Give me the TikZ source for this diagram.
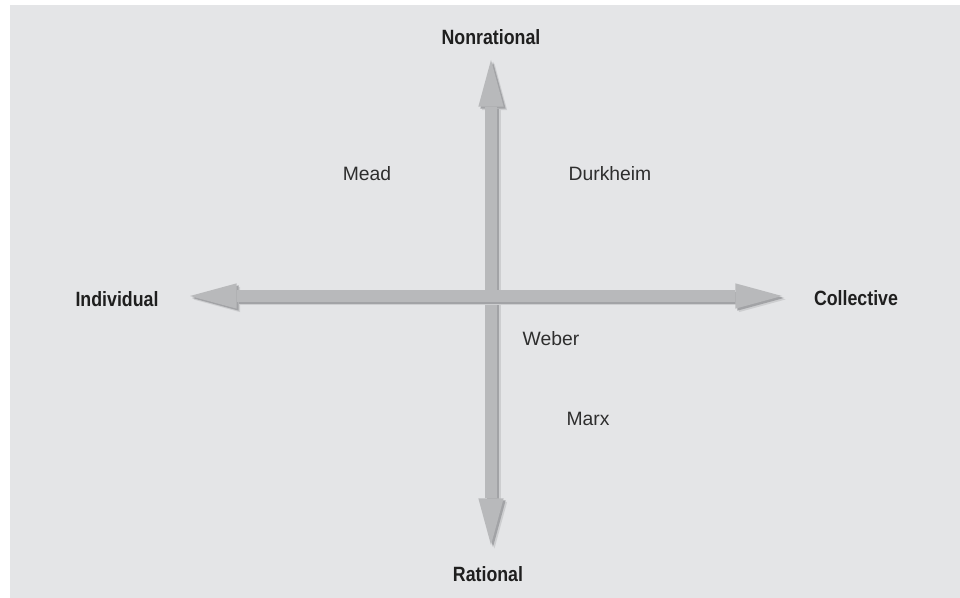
\documentclass[tikz,border=0pt]{standalone}
\usepackage{fontspec}
\setmainfont{Liberation Sans}
\newfontfamily\axisfont{Liberation Sans}[FakeStretch=0.86]
\usetikzlibrary{arrows.meta,calc}

\definecolor{panel}{HTML}{E4E5E7}
\definecolor{axisgray}{HTML}{B8B9BB}
\definecolor{axisshade}{HTML}{A2A3A6}
\definecolor{axishalo}{HTML}{CDCED0}

\tikzset{
  axis/.style={line width=9pt, draw=axisgray,
    {Triangle[length=35pt,width=19pt,line width=0pt,fill=axisgray]}-{Triangle[length=35pt,width=19pt,line width=0pt,fill=axisgray]}},
  shade/.style={line width=9pt, draw=#1,
    {Triangle[length=35pt,width=19pt,line width=0pt,fill=#1]}-{Triangle[length=35pt,width=19pt,line width=0pt,fill=#1]}},
  pole/.style={font=\axisfont\bfseries\fontsize{15.5}{18}\selectfont, text=black!88},
  theorist/.style={font=\fontsize{14.5}{17}\selectfont, text=black!82},
}

\begin{document}
\begin{tikzpicture}[x=0.75pt,y=-0.75pt]
\useasboundingbox (0,0) rectangle (960,598);
\fill[panel] (10,5) rectangle (960,598);

\coordinate (N) at (491,60);
\coordinate (R) at (491,545);
\coordinate (W) at (190,296);
\coordinate (E) at (782,296);

% vertical axis
\draw[shade=axishalo] ($(N)+(3.5,3.5)$) -- ($(R)+(3.5,3.5)$);
\draw[shade=axisshade] ($(N)+(2,2)$) -- ($(R)+(2,2)$);
\draw[axis] (N) -- (R);

% horizontal axis
\draw[shade=axishalo] ($(W)+(3.5,3.5)$) -- ($(E)+(3.5,3.5)$);
\draw[shade=axisshade] ($(W)+(2,2)$) -- ($(E)+(2,2)$);
\draw[axis] (W) -- (E);

\node[pole] (nonrational) at (491,37) {Nonrational};
\node[pole] (rational) at (488,574) {Rational};
\node[pole] (individual) at (117,299) {Individual};
\node[pole] (collective) at (856,298) {Collective};

\node[theorist] (mead) at (367,174) {Mead};
\node[theorist] (durkheim) at (610,174) {Durkheim};
\node[theorist] (weber) at (551,339) {Weber};
\node[theorist] (marx) at (588,419) {Marx};
\end{tikzpicture}
\end{document}
